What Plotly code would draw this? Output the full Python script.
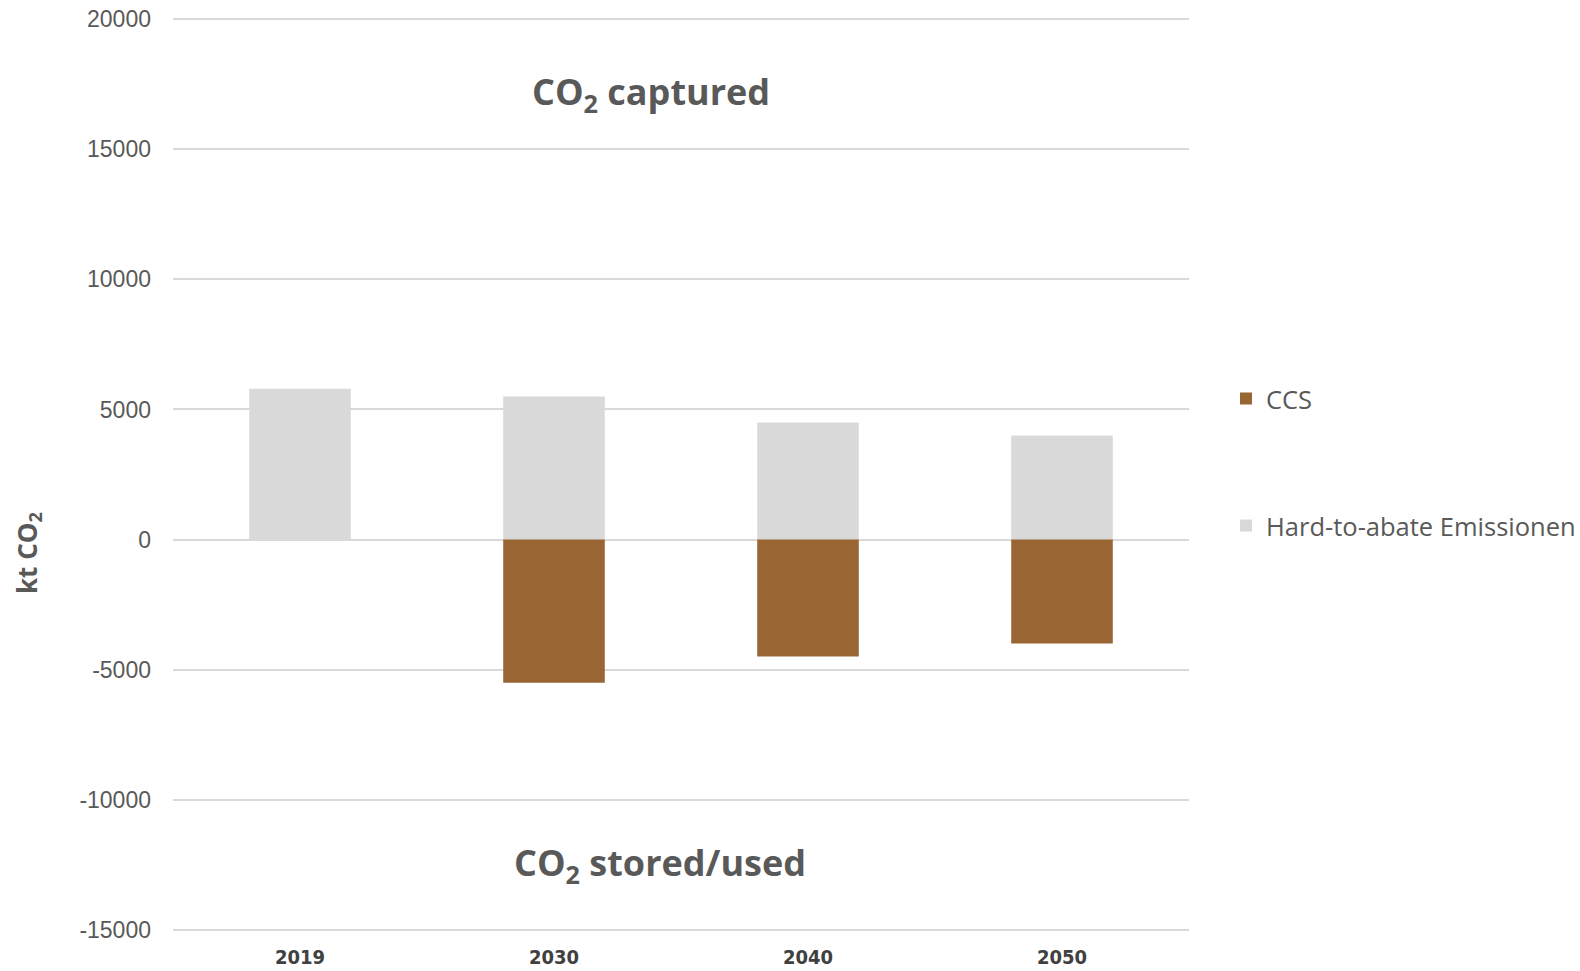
import plotly.graph_objects as go

years = ["2019", "2030", "2040", "2050"]
hard_to_abate = [5800, 5500, 4500, 4000]
ccs = [0, -5500, -4500, -4000]
y_tickvals = [-15000, -10000, -5000, 0, 5000, 10000, 15000, 20000]
y_ticktext = ["-15000", "-10000", "-5000", "0", "5000", "10000", "15000", "20000"]

GRAY = "#D9D9D9"
BROWN = "#996633"
TEXT = "#595959"

# plot area in pixels
PL, PR, PT, PB = 173, 1189, 14, 935
W, H = 1580, 971
PW, PH = PR - PL, PB - PT
Y0, Y1 = -15200, 20200


def py(pix):
    """paper y coordinate for a pixel row"""
    return (PB - pix) / PH


def px(pix):
    return (pix - PL) / PW


fig = go.Figure()
fig.add_trace(go.Bar(
    x=years, y=hard_to_abate, name="Hard-to-abate Emissionen",
    marker=dict(color=GRAY, line=dict(width=0)), legend="legend2",
))
fig.add_trace(go.Bar(
    x=years, y=ccs, name="CCS",
    marker=dict(color=BROWN, line=dict(width=0)), legend="legend",
))

legend_font = dict(family="Open Sans", size=25.5, color=TEXT)
fig.update_layout(
    width=W, height=H,
    margin=dict(l=PL, r=W - PR, t=PT, b=H - PB, autoexpand=False),
    paper_bgcolor="white", plot_bgcolor="white",
    barmode="relative", bargap=0.6,
    showlegend=True,
    font=dict(family="Open Sans", color=TEXT),
    legend=dict(x=px(1226), y=py(399), xanchor="left", yanchor="middle",
                font=legend_font, itemwidth=30, bgcolor="rgba(0,0,0,0)", visible=True),
    legend2=dict(x=px(1226), y=py(526), xanchor="left", yanchor="middle",
                 font=legend_font, itemwidth=30, bgcolor="rgba(0,0,0,0)", visible=True),
)

fig.update_yaxes(
    range=[Y0, Y1], tickvals=y_tickvals, ticktext=y_ticktext,
    showgrid=True, gridcolor=GRAY, gridwidth=1.5,
    zeroline=True, zerolinecolor=GRAY, zerolinewidth=1.5,
    showline=False, ticks="", ticklabelstandoff=21, automargin=False,
    tickfont=dict(family="Liberation Sans", size=23, color=TEXT),
)
fig.update_xaxes(
    showgrid=False, showline=False, ticks="", ticklabelstandoff=8, automargin=False,
    tickfont=dict(family="DejaVu Sans Condensed, Liberation Sans Narrow, Roboto Condensed, Open Sans",
                  size=20, color="#404040", weight="bold"),
)

title_font = dict(family="Open Sans", size=36, color=TEXT, weight="bold")
fig.add_annotation(
    text="CO<sub>2</sub> captured", xref="paper", yref="paper",
    x=px(651), y=py(93), xanchor="center", yanchor="middle", showarrow=False,
    font=title_font,
)
fig.add_annotation(
    text="CO<sub>2</sub> stored/used", xref="paper", yref="paper",
    x=px(660), y=py(864), xanchor="center", yanchor="middle", showarrow=False,
    font=title_font,
)
fig.add_annotation(
    text="kt CO<sub>2</sub>", xref="paper", yref="paper",
    x=px(28), y=py(553), showarrow=False,
    textangle=-90, xanchor="center", yanchor="middle",
    font=dict(family="Open Sans", size=26, color=TEXT, weight="bold"),
)

fig.write_html("out.html")
